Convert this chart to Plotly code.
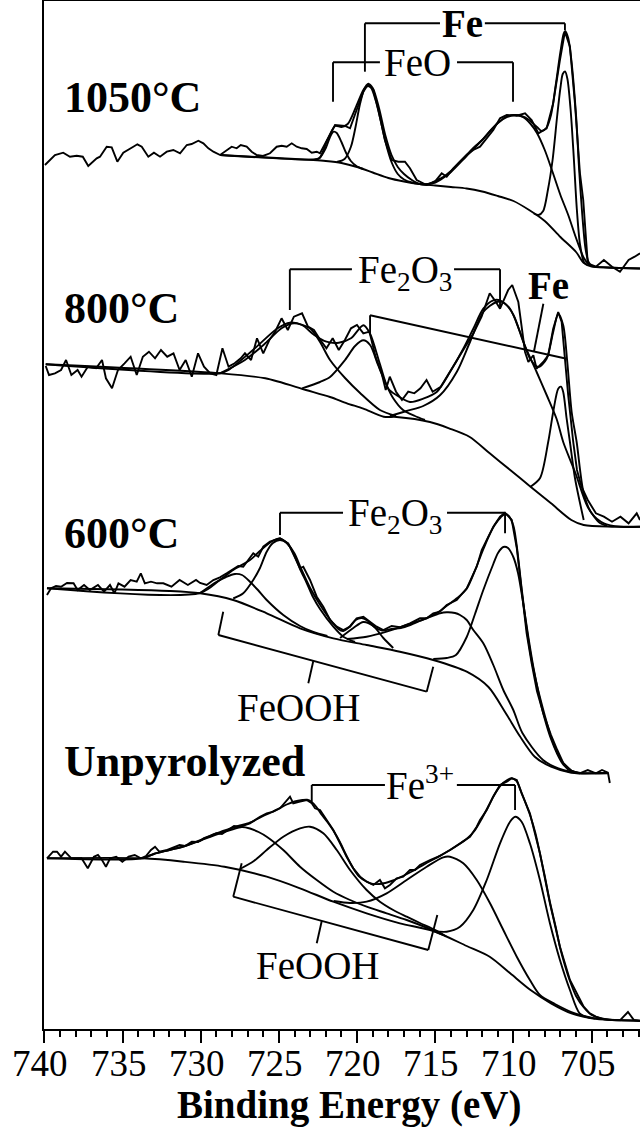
import plotly.graph_objects as go

# ---------------- 1050 °C ----------------
E1050_raw = [739.96, 739.32, 738.79, 738.36, 737.93, 737.54, 737.19, 736.65, 736.44, 736.01, 735.69, 735.33,
             734.95, 734.63, 734.31, 734.05, 733.77, 733.35, 732.99, 732.60, 732.17, 731.75, 731.32, 730.89,
             730.58, 730.15, 729.83, 729.51, 729.19, 728.76, 728.02, 727.70, 727.44, 727.06, 726.74, 726.42,
             726.02, 725.57, 725.14, 724.82, 724.50, 724.18, 723.86, 723.54, 723.22, 722.90, 722.58, 722.37,
             721.94, 721.41, 720.77, 720.45, 720.03, 719.60, 719.28, 718.96, 718.64, 718.22, 717.79, 717.37,
             716.94, 716.62, 716.19, 715.55, 715.02, 714.59, 714.27, 713.85, 712.99, 712.57, 712.14, 711.71,
             711.29, 710.86, 710.43, 709.79, 709.26, 708.84, 708.41, 707.88, 707.46, 707.03, 706.71, 706.39,
             706.07, 705.75, 705.54, 705.25, 704.73, 704.22, 703.70, 703.19, 702.64, 702.25, 701.91]
I1050_raw = [864, 874, 876.3, 872.3, 873.3, 872.3, 863, 870.7, 872.3, 882.3, 881.7, 867.3,
             876.3, 879.7, 882.3, 884.7, 882.3, 872.3, 876.3, 872.3, 877.3, 879, 875.7, 884,
             885, 888.3, 885.7, 880.7, 877.3, 874, 882.3, 880.7, 884, 882.3, 877.3, 874,
             873, 875.7, 882.3, 883.3, 882.3, 885.7, 882.3, 880.7, 880, 876.3, 877.3, 875.7,
             889, 904, 903, 900.7, 919, 937.3, 945, 939, 919, 889, 869, 867.3,
             867.3, 860.7, 849, 844, 847.3, 855.7, 852.3, 860.7, 874, 879, 882.3, 890.7,
             899, 910.7, 914, 913.3, 915.7, 909, 895.7, 900.7, 925.7, 969, 997.3, 982.3,
             925.7, 855.7, 829, 765.7, 762.3, 769, 762.3, 757.3, 769, 772.3, 775.7]

E1050_bg = [728.76, 722.8, 722.0, 721.0, 720.0, 719.0, 718.0, 717.0, 716.0, 715.0, 714.0, 713.0, 712.0,
            711.0, 710.0, 709.0, 708.0, 707.0, 706.0, 705.5, 705.0, 704.0, 703.0, 701.91]
I1050_bg = [874, 869, 868, 866, 862, 856.5, 851, 847.5, 845, 843.5, 842, 840.5, 837.5,
            833, 828, 819, 808, 792, 777, 766, 762.5, 761.5, 761, 760.5]

E1050_env = [728.76, 722.8, 722.4, 721.9, 721.4, 721.0, 720.6, 720.1, 719.6, 719.3, 719.0, 718.6, 718.2,
             717.8, 717.4, 717.0, 716.5, 716.0, 715.5, 715.0, 714.5, 714.0, 713.5, 713.0, 712.5, 712.0,
             711.5, 711.0, 710.5, 710.0, 709.5, 709.0, 708.5, 708.2, 707.9, 707.6, 707.3, 707.0, 706.8,
             706.7, 706.5, 706.3, 706.0, 705.8, 705.6, 705.4, 705.2, 705.0, 704.0, 701.91]
I1050_env = [874, 869.5, 871, 889, 903, 902, 905, 921, 939, 945, 941, 921, 894,
             874, 862, 855, 849, 845, 844.5, 848, 852, 858, 866, 874, 882, 889,
             898, 906, 912, 914, 913, 909, 902, 898, 901, 914, 944, 977, 995,
             998, 991, 969, 914, 859, 814, 781, 767, 763, 761.5, 760.5]

E1050_c1 = [722.8, 722.4, 722.0, 721.7, 721.5, 721.3, 721.0, 720.7, 720.4, 720.0, 719.6]
I1050_c1 = [869, 871, 881, 893, 897.3, 896, 887, 876, 868, 862.5, 860]
E1050_c2 = [721.3, 720.8, 720.4, 720.1, 719.8, 719.5, 719.3, 719.1, 718.8, 718.5, 718.2, 717.8, 717.4,
            717.0, 716.5, 716.0]
I1050_c2 = [867, 870, 882, 902, 926, 941, 943, 941, 928, 909, 888, 867, 855, 849.5, 846.5, 845]
E1050_c3 = [716.0, 715.5, 715.0, 714.5, 714.0, 713.0, 712.0, 711.0, 710.4, 709.9, 709.4, 708.9, 708.5,
            708.0, 707.5, 707.0, 706.5, 706.0, 705.5, 705.2, 705.0]
I1050_c3 = [845, 845, 846.5, 851, 857, 873, 889, 906, 912, 914, 912, 905, 896,
            879, 857, 834, 814, 791, 771, 765, 763]
E1050_c4 = [708.7, 708.4, 708.1, 707.8, 707.5, 707.2, 707.0, 706.85, 706.7, 706.55, 706.35, 706.15,
            705.95, 705.75, 705.5, 705.3]
I1050_c4 = [815.5, 814, 818, 839, 869, 914, 941, 955, 957.5, 950, 920, 873, 820, 785, 767, 764]

# ---------------- 800 °C ----------------
E800_raw = [739.91, 739.70, 739.32, 738.93, 738.61, 738.27, 737.87, 737.62, 737.22, 736.69, 736.31, 736.06,
            735.67, 735.29, 734.87, 734.48, 734.09, 733.70, 733.31, 732.92, 732.54, 732.14, 731.74, 731.35,
            730.96, 730.57, 730.17, 729.79, 729.39, 729.00, 728.61, 728.22, 727.83, 727.44, 727.17, 726.78,
            726.40, 726.00, 725.61, 725.25, 724.83, 724.43, 724.04, 723.52, 723.14, 722.76, 722.35, 721.96,
            721.56, 721.17, 720.78, 720.39, 720.01, 719.60, 719.21, 718.82, 718.43, 718.17, 717.91, 717.51,
            717.13, 716.73, 716.34, 715.95, 715.56, 715.17, 714.65, 714.12, 713.61, 713.08, 712.56, 712.04,
            711.52, 711.13, 710.86, 710.34, 710.08, 709.69, 709.48, 709.26, 709.05, 708.73, 708.52, 708.10,
            707.78, 707.46, 707.14, 706.92, 706.71, 706.50, 706.18, 705.94, 705.65, 705.25, 704.73, 704.22,
            703.70, 703.16, 702.64, 702.12, 701.91]
I800_raw = [663, 654, 655.7, 659, 669, 654, 659, 652.3, 662.3, 660.7, 669, 650.7,
            640.7, 659, 665.7, 672.3, 654, 672.3, 677.3, 670.7, 679, 672.3, 675.7, 659,
            669, 652.3, 675.7, 662.3, 655.7, 654, 680.7, 662.3, 665.7, 670.7, 675.7, 669,
            690.7, 675.7, 689, 697, 710.7, 699, 712.3, 715.7, 702.3, 699, 689, 680.7,
            690.7, 679, 689, 700.7, 704, 695.7, 697.3, 672.3, 655.7, 639, 652.3, 637.3,
            629, 637.3, 635.7, 640.7, 649, 637.3, 642.3, 655.7, 669, 682.3, 695.7, 712.3,
            735.7, 727.3, 720.3, 739, 744, 727, 700.3, 677, 667, 673.7, 660.3, 667,
            673.7, 700.3, 717, 707, 670.3, 633.7, 587, 559, 542.3, 529, 515.7, 512.3,
            507.3, 512.3, 505.7, 515.7, 509]

E800_bg = [739.91, 728.77, 725.87, 723.27, 721.73, 720.65, 719.60, 718.30, 717.47, 715.34, 714.12, 712.82,
           711.52, 710.21, 708.91, 707.60, 706.30, 705.51, 703.70, 701.91]
I800_bg = [664.7, 655.7, 650.7, 639, 632, 625.7, 620.3, 612.3, 612, 607, 600.7, 592.3,
           575.7, 559, 542.3, 525.7, 509, 504, 502.3, 502.3]

E800_env = [739.91, 728.77, 728.22, 726.66, 725.08, 724.30, 723.52, 722.74, 721.96, 721.17, 720.39, 719.60,
            719.17, 718.54, 718.00, 717.47, 716.62, 715.77, 714.91, 714.06, 713.21, 712.57, 711.93, 711.29,
            710.86, 710.22, 709.58, 708.94, 708.41, 707.88, 707.46, 707.14, 706.82, 706.56, 706.28, 705.96,
            705.51, 705.00, 704.22, 703.16, 701.91]
I800_env = [664.7, 655.7, 659, 679, 700.7, 706.3, 704, 694, 687.3, 686.3, 690.7, 703.7,
            695.3, 665, 640.3, 633.7, 627, 630.3, 637, 657, 680.3, 700.3, 720.3, 728.7,
            728.7, 720.3, 697, 670.3, 662, 670.3, 697, 715.3, 703.7, 667, 617, 587,
            535.7, 515.7, 505.7, 502.3, 502.3]

E800_a = [728.77, 727.17, 725.87, 724.83, 724.03, 723.01, 722.37, 721.73, 720.77, 719.81, 718.54, 717.51]
I800_a = [655.7, 669, 685.7, 700.7, 705.7, 700.7, 687, 669, 651, 636, 619, 613]
E800_b = [723.52, 722.37, 721.73, 720.77, 720.13, 719.60, 719.17, 718.66, 718.21, 717.70, 717.06, 716.30, 715.66]
I800_b = [640.7, 647, 652, 669, 683, 688.7, 684, 664, 647, 631, 619, 613, 609]
E800_c = [717.9, 716.83, 715.77, 714.70, 713.63, 712.78, 711.93, 711.07, 710.6, 710.0, 709.37, 708.52,
          707.88, 707.24, 706.82, 706.04, 705.25, 704.47, 704.0]
I800_c = [613, 618, 623, 633.7, 657, 687, 717, 727, 726, 714, 687, 657,
          634, 610, 587, 556, 522, 506, 503]
E800_d = [708.91, 708.30, 707.78, 707.46, 707.14, 706.96, 706.82, 706.60, 706.39, 706.07, 705.51]
I800_d = [542.3, 551, 587, 617, 640.3, 642.3, 637, 610.3, 587, 551, 509]

# ---------------- 600 °C ----------------
E600_raw = [739.83, 739.57, 739.25, 738.93, 738.55, 738.13, 737.87, 737.46, 737.09, 736.57, 736.18, 735.80,
            735.52, 735.26, 734.87, 734.48, 734.09, 733.83, 733.57, 733.18, 732.79, 732.39, 731.87, 731.35,
            730.82, 730.30, 730.04, 729.62, 729.19, 728.77, 728.34, 727.92, 727.60, 727.28, 726.85, 726.64,
            726.32, 726.00, 725.57, 724.93, 724.40, 723.97, 723.65, 723.44, 723.01, 722.58, 722.16, 721.73,
            721.30, 720.88, 720.45, 720.03, 719.60, 719.18, 718.75, 718.32, 717.79, 717.26, 716.62, 715.98,
            715.55, 715.13, 714.70, 714.27, 713.63, 712.99, 712.35, 712.03, 711.71, 711.29, 710.86, 710.54,
            710.11, 709.79, 709.48, 709.16, 708.84, 708.50, 708.10, 707.60, 707.20, 706.82, 706.30, 705.77,
            705.25, 704.73, 704.34, 703.96, 703.84]
I600_raw = [434, 440.7, 443, 442.3, 446, 445.7, 439, 444, 439, 444, 437.3, 444,
            435.7, 445.7, 442.3, 449, 447.3, 455.7, 445.7, 447.3, 445.7, 445.7, 442.3, 449,
            444, 449, 446, 444, 449, 451.7, 455.7, 459.7, 463, 462.3, 470.7, 475.7,
            472.3, 482.3, 487.3, 490.7, 485.7, 472.3, 460.7, 462.3, 449, 432.3, 422.3, 409,
            402.3, 399, 402.3, 410.7, 412.3, 407.3, 402.3, 399, 403, 401.7, 405.7, 410.7,
            410.7, 415.7, 417.3, 424, 429, 440.7, 462.3, 479, 489, 502.3, 512.3, 516.3,
            509, 481, 439, 396, 366, 338, 316, 294, 279, 266, 258.3, 255.7,
            259, 255.7, 259, 256.3, 246]

E600_bg = [739.83, 735.0, 732.0, 730.04, 727.92, 725.78, 723.65, 721.52, 719.39, 717.26, 715.13, 712.99,
           711.6, 710.5, 709.6, 708.64, 707.60, 706.30, 703.96]
I600_bg = [440.7, 439.5, 438, 435.7, 429, 415.7, 400.7, 390.7, 384, 377.3, 369, 357.3,
           342, 316, 293, 272.3, 262.3, 256.3, 255.7]

E600_env = [739.83, 730.04, 728.77, 727.92, 726.85, 726.0, 725.3, 724.93, 724.5, 724.0, 723.6, 723.0,
            722.4, 721.7, 721.2, 720.88, 720.5, 720.1, 719.7, 719.3, 718.9, 718.4, 717.8, 717.2,
            716.6, 716.0, 715.4, 714.8, 714.2, 713.6, 713.0, 712.4, 712.0, 711.6, 711.2, 710.8,
            710.54, 710.3, 710.0, 709.79, 709.48, 709.16, 708.84, 708.44, 707.99, 707.60, 707.22, 706.82,
            706.30, 705.75, 704.73, 703.96]
I600_env = [440.7, 436, 449, 459, 469, 481, 489, 490.5, 486, 475.5, 461, 441,
            425, 409, 400, 398, 402, 409, 411, 408, 402, 398.5, 400, 401,
            404, 408, 412, 417, 424, 431, 440, 461, 477, 492, 504, 512,
            515, 513, 503, 483, 441, 401, 369, 340, 313, 292, 277, 266,
            258.5, 256, 256, 256]

E600_a = [730.04, 728.98, 728.38, 727.81, 727.36, 726.85, 726.34, 725.78, 724.72, 723.65, 722.8, 721.9]
I600_a = [436, 447.3, 452, 455, 454, 447.3, 439, 429, 414, 403, 397, 393]
E600_b = [727.92, 727.28, 726.64, 726.21, 725.78, 725.38, 724.93, 724.48, 724.08, 723.65, 723.22, 722.82,
          722.37, 721.52, 720.88, 720.13]
I600_b = [430.5, 435.7, 449, 461, 477.3, 486, 489, 486, 476, 460, 446, 432,
          420, 402.3, 392.3, 387]
E600_c = [721.09, 720.24, 719.60, 718.96, 718.32, 717.69]
I600_c = [391, 401, 407, 403, 391, 381]
E600_d = [720.66, 719.39, 718.11, 716.83, 715.55, 714.70, 714.27, 713.74, 713.42, 712.99, 712.57, 711.93,
          711.29, 710.65, 710.01, 709.43, 708.11, 706.83, 705.75]
I600_d = [390, 392.3, 397.3, 404, 410.7, 415.7, 416.7, 416, 414, 409, 399, 385.7,
          364, 339, 319, 296, 269, 259, 256]
E600_e = [715.13, 714.27, 713.68, 712.99, 712.46, 711.93, 711.29, 710.99, 710.65, 710.35, 710.01, 709.71,
          709.37, 709.05, 708.73, 708.4, 708.0, 707.6, 707.2, 706.8, 706.3, 705.77]
I600_e = [370, 371, 374, 392, 415, 439, 465, 476, 482, 481, 472, 456,
          425, 392, 362, 336, 310, 290, 275, 264, 257.5, 256]

# ---------------- Unpyrolyzed ----------------
EU_raw = [739.83, 739.44, 739.19, 738.93, 738.68, 738.27, 737.62, 737.22, 736.83, 736.57, 736.31, 736.06,
          735.79, 735.40, 735.01, 734.61, 734.22, 733.83, 733.50, 733.18, 732.92, 732.65, 732.14, 731.77,
          731.35, 731.00, 730.57, 730.17, 729.79, 729.41, 729.00, 728.64, 728.22, 727.87, 727.49, 726.85,
          726.21, 725.78, 725.36, 724.93, 724.29, 724.08, 723.65, 723.22, 722.90, 722.69, 722.37, 721.94,
          721.52, 721.09, 720.67, 720.24, 719.81, 719.39, 718.96, 718.54, 718.22, 717.90, 717.47, 717.05,
          716.62, 716.30, 715.98, 715.34, 714.70, 714.06, 713.42, 712.78, 712.35, 712.14, 711.71, 711.29,
          710.86, 710.43, 710.11, 709.79, 709.48, 708.95, 708.31, 707.67, 707.03, 706.39, 705.51, 705.12,
          704.73, 704.21, 703.70, 703.19, 702.68, 702.30, 701.91]
IU_raw = [170.7, 177.3, 177.3, 172.3, 177.3, 170.7, 170.7, 160.7, 172.3, 174, 169, 162.3,
          170.7, 172.3, 167.3, 172.3, 174, 170.7, 173, 179, 182.3, 177.3, 179, 181,
          184, 183, 187.3, 187, 191, 193, 195.7, 195, 199, 203, 202.3, 205.7,
          212.3, 215.7, 217.3, 220.7, 232.3, 225.7, 227.3, 229, 225.7, 220.7, 219, 209,
          199, 185.7, 172.3, 160.7, 152.3, 147.3, 144, 149, 140.7, 144, 150.7, 152.3,
          159, 159, 164, 169, 173, 179, 185.7, 192.3, 202.3, 209, 219, 232.3,
          244, 247.3, 250.7, 249, 235.7, 215.7, 175.7, 125.7, 82.3, 49, 22.3, 15.7,
          12.3, 9.7, 9, 8.7, 17, 9, 8]

EU_bg = [739.83, 733.70, 731.09, 728.48, 725.78, 723.65, 721.52, 719.39, 717.26, 715.13, 712.99, 711.52,
         710.21, 708.91, 707.60, 706.30, 705.00, 703.70, 701.91]
IU_bg = [170.7, 170.7, 167.3, 162.3, 152.3, 140.7, 127.3, 115.7, 105.7, 98, 83, 72.3,
         55.7, 39, 25.7, 15.7, 10.7, 9, 8.3]

EU_env = [739.83, 733.70, 733.0, 732.0, 731.0, 730.0, 729.0, 728.0, 727.5, 727.0, 726.5, 726.0,
          725.5, 725.0, 724.5, 724.0, 723.5, 723.2, 722.9, 722.6, 722.3, 721.9, 721.5, 721.1,
          720.7, 720.3, 719.9, 719.4, 719.0, 718.6, 718.2, 717.8, 717.4, 717.0, 716.5, 716.0,
          715.5, 715.0, 714.5, 714.0, 713.5, 713.0, 712.5, 712.0, 711.6, 711.2, 710.8, 710.4,
          710.1, 709.8, 709.5, 709.2, 708.9, 708.6, 708.3, 708.0, 707.67, 707.3, 707.03, 706.7,
          706.39, 706.0, 705.5, 705.0, 704.5, 704.0, 703.0, 701.91]
IU_env = [170.7, 170.7, 175, 179, 183, 189, 195.5, 201, 203.5, 205.5, 209, 213,
          216.5, 220.5, 224.5, 227.5, 229, 229.3, 227, 222, 215, 207, 198, 187,
          174, 162, 153, 147.5, 145, 145, 146, 148, 150.5, 153.5, 157.5, 162,
          166.5, 170.5, 175, 179.5, 184.5, 190, 198, 211, 223, 235, 244, 249,
          250.7, 248, 237, 225, 212, 196, 175, 153, 127, 102, 82, 63,
          48, 33, 21.5, 14, 11, 9.5, 8.8, 8.3]

EU_a = [733.70, 733.0, 732.0, 731.0, 730.0, 729.0, 728.0, 727.38, 726.85, 726.3, 725.78, 724.72,
        723.65, 722.58, 721.52, 720.45, 719.39, 718.11, 716.83, 715.5, 714.5]
IU_a = [170.7, 175, 179, 183, 188.5, 194.5, 199.5, 202, 200.5, 197, 192.3, 179,
        162.3, 149, 137.3, 129, 122.3, 115.7, 109, 101, 94]
EU_b = [727.49, 726.6, 725.78, 724.72, 723.65, 723.01, 722.16, 721.30, 720.45, 719.39, 718.54, 717.69,
        716.83, 715.98, 715.0, 714.3]
IU_b = [160, 168, 179, 192.3, 200.7, 202.3, 195.7, 179, 159, 139, 127.3, 119,
        112.3, 106, 99, 92.5]
EU_c = [721.5, 720.45, 719.39, 718.11, 716.83, 715.55, 714.49, 714.06, 713.21, 712.35, 711.50, 710.65,
        709.79, 708.95, 708.31, 707.35, 706.07, 704.79]
IU_c = [128, 126, 127.3, 135.7, 149, 162.3, 171.7, 172.3, 165.7, 149, 125.7, 99,
        72.3, 49, 34, 25, 15.5, 10.5]
EU_d = [715.13, 714.27, 713.42, 712.57, 711.71, 710.86, 710.22, 709.89, 709.48, 708.95, 708.31, 707.67,
        707.03, 706.39, 705.77, 705.10]
IU_d = [98, 97.3, 102.3, 119, 149, 185.7, 207.3, 212.3, 207.3, 185.7, 149, 105.7,
        69, 39, 15.7, 11]

# ---------------- labels ----------------
TICK_VALUES = [740, 735, 730, 725, 720, 715, 710, 705]
X_TITLE = "Binding Energy (eV)"
SAMPLE_LABELS = ["1050°C", "800°C", "600°C", "Unpyrolyzed"]

FONT = "Liberation Serif"
LW = 1.9

fig = go.Figure()

smooth_curves = [
    (E1050_bg, I1050_bg), (E1050_c1, I1050_c1), (E1050_c2, I1050_c2), (E1050_c3, I1050_c3),
    (E1050_c4, I1050_c4), (E1050_env, I1050_env),
    (E800_bg, I800_bg), (E800_a, I800_a), (E800_b, I800_b), (E800_c, I800_c), (E800_d, I800_d),
    (E800_env, I800_env),
    (E600_bg, I600_bg), (E600_a, I600_a), (E600_b, I600_b), (E600_c, I600_c), (E600_d, I600_d),
    (E600_e, I600_e), (E600_env, I600_env),
    (EU_bg, IU_bg), (EU_a, IU_a), (EU_b, IU_b), (EU_c, IU_c), (EU_d, IU_d), (EU_env, IU_env),
]
for ex, iy in smooth_curves:
    fig.add_trace(go.Scatter(x=ex, y=iy, mode="lines",
                             line=dict(color="black", width=LW, shape="spline", smoothing=0.8),
                             hoverinfo="skip", showlegend=False))

for ex, iy in [(E1050_raw, I1050_raw), (E800_raw, I800_raw), (E600_raw, I600_raw), (EU_raw, IU_raw)]:
    fig.add_trace(go.Scatter(x=ex, y=iy, mode="lines",
                             line=dict(color="black", width=LW),
                             hoverinfo="skip", showlegend=False))

# bracket / leader lines (eV, intensity)
brackets = [
    [(719.50, 957.3), (719.50, 1005.7), (714.70, 1005.7)], [(711.83, 1005.7), (706.71, 1005.7), (706.71, 999)],
    [(721.54, 927.3), (721.54, 966.7), (718.54, 966.7)], [(713.61, 966.7), (710.03, 966.7), (710.03, 927.3)],
    [(724.30, 719), (724.30, 759.7), (720.33, 759.7)], [(713.80, 759.7), (710.86, 759.7), (710.86, 722)],
    [(719.17, 695.3), (719.17, 713.7), (706.60, 670.3)], [(708.09, 725.3), (708.69, 677.5)],
    [(724.93, 494), (724.93, 516.3), (720.90, 516.3)], [(714.25, 516.3), (710.54, 516.3), (710.54, 495.7)],
    [(728.56, 417.3), (728.87, 394), (715.55, 337.3), (715.13, 362.3)], [(722.80, 368), (723.12, 345.7)],
    [(722.90, 227.3), (722.90, 244), (718.22, 244)], [(713.62, 244), (709.90, 244), (709.90, 219)],
    [(727.38, 165.7), (727.92, 132.3), (715.45, 79), (714.87, 114)], [(722.26, 108), (722.58, 85.7)],
]
shapes = []
for seg in brackets:
    for (x0, y0), (x1, y1) in zip(seg[:-1], seg[1:]):
        shapes.append(dict(type="line", xref="x", yref="y", x0=x0, y0=y0, x1=x1, y1=y1,
                           line=dict(color="black", width=LW)))

annotations = []
for txt, yy in zip(SAMPLE_LABELS, [932, 721, 496, 268]):
    annotations.append(dict(x=738.87, y=yy, xref="x", yref="y", text="<b>%s</b>" % txt, showarrow=False,
                            xanchor="left", yanchor="middle", font=dict(family=FONT, size=44, color="black")))
peak_labels = [
    ("<b>Fe</b>", 713.29, 1005.7), ("FeO", 716.11, 966.7),
    ("Fe<sub>2</sub>O<sub>3</sub>", 716.94, 757), ("<b>Fe</b>", 707.78, 744),
    ("Fe<sub>2</sub>O<sub>3</sub>", 717.55, 514), ("FeOOH", 723.71, 322),
    ("Fe<sup>3+</sup>", 715.98, 246), ("FeOOH", 722.52, 64),
]
for txt, xx, yy in peak_labels:
    annotations.append(dict(x=xx, y=yy, xref="x", yref="y", text=txt, showarrow=False,
                            xanchor="center", yanchor="middle", font=dict(family=FONT, size=39, color="black")))
# tick labels drawn as annotations so they sit close to the ticks
for v in TICK_VALUES:
    annotations.append(dict(x=v, y=-0.0335, xref="x", yref="paper", text=str(v), showarrow=False,
                            xanchor="center", yanchor="middle", xshift=-4,
                            font=dict(family=FONT, size=37, color="black")))
annotations.append(dict(x=0.5134, y=-0.074, xref="paper", yref="paper", text="<b>%s</b>" % X_TITLE,
                        showarrow=False, xanchor="center", yanchor="middle",
                        font=dict(family=FONT, size=39, color="black")))

fig.update_layout(
    width=640, height=1128,
    margin=dict(l=44, r=0, t=1, b=99),
    paper_bgcolor="white", plot_bgcolor="white",
    shapes=shapes, annotations=annotations,
    xaxis=dict(range=[740.02, 701.91], showline=True, linecolor="black", linewidth=2, mirror=True,
               ticks="outside", tickvals=TICK_VALUES, showticklabels=False,
               ticklen=12, tickwidth=2, tickcolor="black",
               minor=dict(dtick=1, tick0=700, ticks="outside", ticklen=6, tickwidth=2, tickcolor="black"),
               showgrid=False, zeroline=False),
    yaxis=dict(range=[0, 1028], showline=True, linecolor="black", linewidth=2,
               showticklabels=False, ticks="", showgrid=False, zeroline=False),
)

fig.write_html("out.html", config={"displayModeBar": False},
               post_script="document.body.style.margin='0';document.body.style.overflow='hidden';")
